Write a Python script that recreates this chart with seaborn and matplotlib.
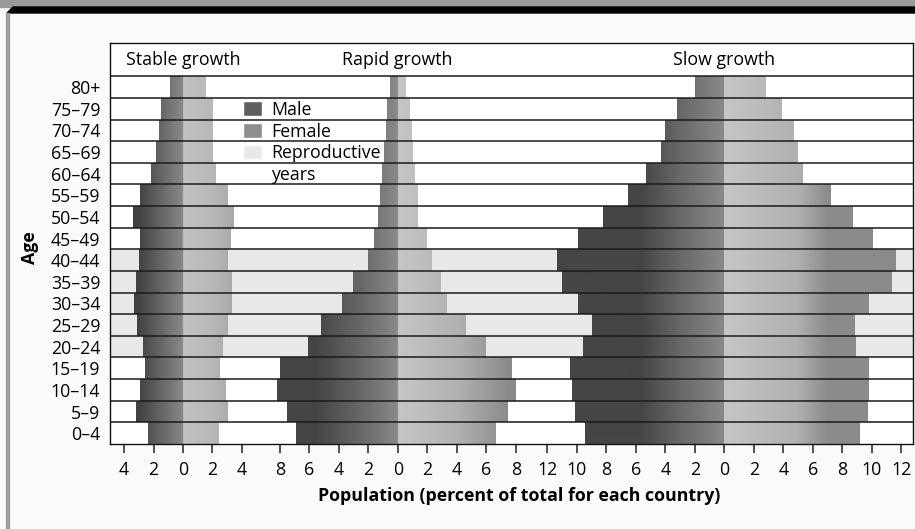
import numpy as np
import pandas as pd
import matplotlib
matplotlib.use("Agg")
import matplotlib.pyplot as plt
from matplotlib.patches import Patch, Rectangle, Polygon
import seaborn as sns

# %%
# age classes, oldest on top
ages = ["80+", "75–79", "70–74", "65–69", "60–64", "55–59", "50–54", "45–49",
        "40–44", "35–39", "30–34", "25–29", "20–24", "15–19", "10–14", "5–9", "0–4"]
reproductive = ["20–24", "25–29", "30–34", "35–39", "40–44"]

# percent of total population
stable_male = [0.9, 1.5, 1.6, 1.8, 2.2, 2.9, 3.4, 2.9, 3.0, 3.2, 3.3, 3.1, 2.7, 2.6, 2.9, 3.2, 2.4]
stable_female = [1.5, 2.0, 2.0, 2.0, 2.2, 3.0, 3.4, 3.2, 3.0, 3.3, 3.3, 3.0, 2.7, 2.5, 2.9, 3.0, 2.4]
rapid_male = [0.5, 0.7, 0.8, 0.9, 1.1, 1.2, 1.35, 1.6, 2.0, 3.0, 3.8, 5.2, 6.1, 8.0, 8.2, 7.5, 6.9]
rapid_female = [0.5, 0.75, 0.9, 1.0, 1.15, 1.3, 1.35, 1.9, 2.3, 2.9, 3.3, 4.6, 5.9, 7.7, 7.95, 7.4, 6.6]
slow_male = [2.0, 3.2, 4.0, 4.3, 5.3, 6.5, 8.2, 9.9, 11.35, 11.0, 9.9, 9.0, 9.6, 10.45, 10.35, 10.1, 9.45]
slow_female = [2.8, 3.9, 4.7, 5.0, 5.3, 7.2, 8.7, 10.05, 11.6, 11.35, 9.8, 8.85, 8.95, 9.8, 9.8, 9.75, 9.2]

groups = ["Stable growth", "Rapid growth", "Slow growth"]
tick_max = [4, 8, 12]

# layout: where each pyramid sits on the shared x axis
centers = [0.0, 14.56, 36.7]
x_limits = (-4.95, 49.5)
header_top = -2.04
fs = 12.8

# gradient stops (distance from center, gray level 0-255)
male_stops = [
    ([0, 1.5, 3.0, 6], [0x8a, 0x66, 0x42, 0x40]),
    ([0, 2.5, 5.5, 10], [0x8a, 0x68, 0x45, 0x45]),
    ([0, 3.0, 5.7, 13], [0x8a, 0x68, 0x45, 0x45]),
]
female_stops = [
    ([0, 2.0, 3.4, 6], [0xc2, 0xb8, 0xa8, 0xa5]),
    ([0, 4.0, 7.5, 10], [0xc6, 0xb2, 0x8a, 0x8a]),
    ([0, 5.0, 7.0, 13], [0xc6, 0xb0, 0x8c, 0x8a]),
]

sns.set_theme(style="white", rc={"text.color": "black", "axes.labelcolor": "black",
                                 "xtick.color": "black", "ytick.color": "black"})
plt.rcParams["font.family"] = ["Open Sans", "DejaVu Sans"]

fig = plt.figure(figsize=(9.15, 5.29), dpi=100, facecolor="#fbfbfb")
ax = fig.add_axes([110 / 915, 1 - 444 / 529, 803 / 915, 401 / 529])
ax.set_facecolor("white")

# frame decoration of the page
fig.patches.append(Rectangle((0, 1 - 7 / 529), 1, 7 / 529, transform=fig.transFigure,
                             color="#9a9a9a", zorder=0))
fig.patches.append(Polygon([(7 / 915, 1 - 13 / 529), (13 / 915, 1 - 7 / 529), (1, 1 - 7 / 529),
                            (1, 1 - 13 / 529)], closed=True, transform=fig.transFigure,
                           color="black", zorder=0))
fig.patches.append(Rectangle((6 / 915, 0), 2.5 / 915, 1 - 13 / 529, transform=fig.transFigure,
                             color="#a0a0a0", zorder=0))

sexes = [(stable_male, stable_female), (rapid_male, rapid_female), (slow_male, slow_female)]

for g, name in enumerate(groups):
    c = centers[g]
    m = tick_max[g]
    xs = np.linspace(c - m - 1.5, c + m + 1.5, 400)
    d = np.abs(xs - c)
    level = np.where(xs < c, np.interp(d, *male_stops[g]), np.interp(d, *female_stops[g])) / 255
    grad = np.repeat(level[None, :, None], 3, axis=2)

    for sign, vals, flat in [(-1, sexes[g][0], "#5e5e5e"), (1, sexes[g][1], "#b0b0b0")]:
        df = pd.DataFrame({"age": ages, "pct": sign * np.array(vals)})
        n0 = len(ax.patches)
        sns.barplot(data=df, x="pct", y="age", order=ages, orient="y", width=1.0,
                    color=flat, errorbar=None, left=c, linewidth=0, zorder=2, ax=ax)
        for bar in ax.patches[n0:]:
            im = ax.imshow(grad, extent=(xs[0], xs[-1], 16.5, -0.5), aspect="auto",
                           interpolation="bilinear", zorder=2.5)
            im.set_clip_path(bar)

    ax.text(c, (header_top - 0.5) / 2, name, ha="center", va="center", fontsize=fs)

# row backgrounds and separators
for i, age in enumerate(ages):
    ax.axhspan(i - 0.5, i + 0.5, color="#e8e8e8" if age in reproductive else "white", zorder=0)
for y in np.arange(-0.5, len(ages) - 0.5, 1):
    ax.axhline(y, color="#1a1a1a", lw=1.1, zorder=4)

ax.set_xlim(*x_limits)
ax.set_ylim(len(ages) - 0.5, header_top)

ticks, labels = [], []
for c, m in zip(centers, tick_max):
    for v in range(-m, m + 1, 2):
        ticks.append(c + v)
        labels.append(str(abs(v)))
ax.set_xticks(ticks)
ax.set_xticklabels(labels)
ax.tick_params(axis="x", bottom=True, direction="out", length=6.5, width=1.1,
               color="#222222", labelsize=fs, pad=5.5)
ax.tick_params(axis="y", left=False, length=0, labelsize=fs, pad=7)

for s in ax.spines.values():
    s.set_color("#111111")
    s.set_linewidth(1.0)
    s.set_zorder(5)

ax.set_xlabel("Population (percent of total for each country)", fontsize=fs, fontweight="bold")
ax.xaxis.set_label_coords((519 - 110) / 803, -0.108)
ax.set_ylabel("Age", fontsize=fs, fontweight="bold")
ax.yaxis.set_label_coords(-0.088, 0.49)

handles = [Patch(facecolor="#5e5e5e", label="Male"),
           Patch(facecolor="#8e8e8e", label="Female"),
           Patch(facecolor="#e8e8e8", label="Reproductive"),
           Patch(facecolor="none", edgecolor="none", label="years")]
ax.legend(handles=handles, loc="upper left", bbox_to_anchor=(243 / 915, 1 - 101 / 529),
          bbox_transform=fig.transFigure, frameon=False, borderpad=0, borderaxespad=0,
          handlelength=1.05, handleheight=0.9, handletextpad=0.55, labelspacing=0.2,
          fontsize=fs)

plt.savefig("out.png", dpi=100, facecolor=fig.get_facecolor())
